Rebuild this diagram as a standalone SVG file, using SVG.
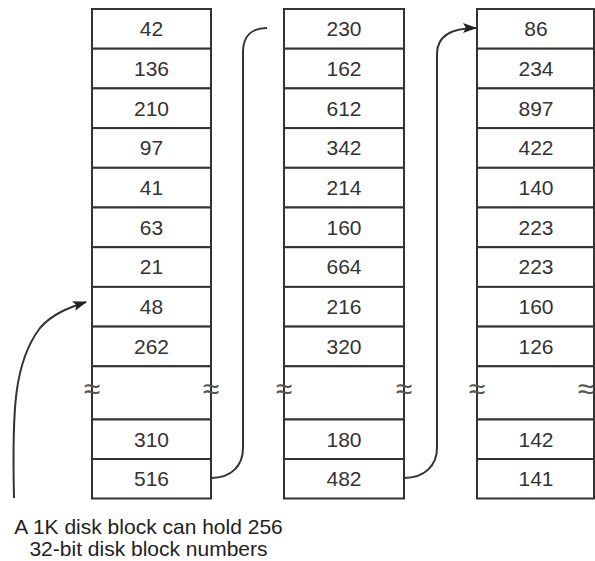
<svg xmlns="http://www.w3.org/2000/svg" width="595" height="561" viewBox="0 0 595 561">
<style>
.cell{fill:#fff;stroke:#333;stroke-width:2}
.num{font-family:"Liberation Sans",Arial,sans-serif;font-size:21px;fill:#333;text-anchor:middle}
.apx{font-family:"Liberation Sans",Arial,sans-serif;font-size:30px;fill:#555;text-anchor:middle}
.cap{font-family:"Liberation Sans",Arial,sans-serif;font-size:21px;fill:#222;text-anchor:middle}
.conn{fill:none;stroke:#333;stroke-width:2}
</style>
<defs>
<marker id="ah" markerUnits="userSpaceOnUse" markerWidth="14" markerHeight="10" refX="13" refY="5" orient="auto">
<path d="M0,0 L14,5 L0,10 L3,5 Z" fill="#222"/>
</marker>
</defs>
<rect width="595" height="561" fill="#fff"/>
<g id="block1">
<rect class="cell" x="92" y="9" width="119" height="39.7"/>
<rect class="cell" x="92" y="48.7" width="119" height="39.7"/>
<rect class="cell" x="92" y="88.4" width="119" height="39.7"/>
<rect class="cell" x="92" y="128.1" width="119" height="39.7"/>
<rect class="cell" x="92" y="167.8" width="119" height="39.7"/>
<rect class="cell" x="92" y="207.5" width="119" height="39.7"/>
<rect class="cell" x="92" y="247.2" width="119" height="39.7"/>
<rect class="cell" x="92" y="286.9" width="119" height="39.7"/>
<rect class="cell" x="92" y="326.6" width="119" height="39.7"/>
<rect class="cell" x="92" y="366.3" width="119" height="53.2"/>
<rect class="cell" x="92" y="419.5" width="119" height="39.5"/>
<rect class="cell" x="92" y="459" width="119" height="39.5"/>
<text class="num" x="151.5" y="36.2">42</text>
<text class="num" x="151.5" y="75.9">136</text>
<text class="num" x="151.5" y="115.6">210</text>
<text class="num" x="151.5" y="155.3">97</text>
<text class="num" x="151.5" y="195">41</text>
<text class="num" x="151.5" y="234.7">63</text>
<text class="num" x="151.5" y="274.4">21</text>
<text class="num" x="151.5" y="314.1">48</text>
<text class="num" x="151.5" y="353.8">262</text>
<text class="num" x="151.5" y="446.6">310</text>
<text class="num" x="151.5" y="486.1">516</text>
<text class="apx" x="92" y="399">≈</text>
<text class="apx" x="211" y="399">≈</text>
</g>
<g id="block2">
<rect class="cell" x="284" y="9" width="120" height="39.7"/>
<rect class="cell" x="284" y="48.7" width="120" height="39.7"/>
<rect class="cell" x="284" y="88.4" width="120" height="39.7"/>
<rect class="cell" x="284" y="128.1" width="120" height="39.7"/>
<rect class="cell" x="284" y="167.8" width="120" height="39.7"/>
<rect class="cell" x="284" y="207.5" width="120" height="39.7"/>
<rect class="cell" x="284" y="247.2" width="120" height="39.7"/>
<rect class="cell" x="284" y="286.9" width="120" height="39.7"/>
<rect class="cell" x="284" y="326.6" width="120" height="39.7"/>
<rect class="cell" x="284" y="366.3" width="120" height="53.2"/>
<rect class="cell" x="284" y="419.5" width="120" height="39.5"/>
<rect class="cell" x="284" y="459" width="120" height="39.5"/>
<text class="num" x="344" y="36.2">230</text>
<text class="num" x="344" y="75.9">162</text>
<text class="num" x="344" y="115.6">612</text>
<text class="num" x="344" y="155.3">342</text>
<text class="num" x="344" y="195">214</text>
<text class="num" x="344" y="234.7">160</text>
<text class="num" x="344" y="274.4">664</text>
<text class="num" x="344" y="314.1">216</text>
<text class="num" x="344" y="353.8">320</text>
<text class="num" x="344" y="446.6">180</text>
<text class="num" x="344" y="486.1">482</text>
<text class="apx" x="284" y="399">≈</text>
<text class="apx" x="404" y="399">≈</text>
</g>
<g id="block3">
<rect class="cell" x="477" y="9" width="117" height="39.7"/>
<rect class="cell" x="477" y="48.7" width="117" height="39.7"/>
<rect class="cell" x="477" y="88.4" width="117" height="39.7"/>
<rect class="cell" x="477" y="128.1" width="117" height="39.7"/>
<rect class="cell" x="477" y="167.8" width="117" height="39.7"/>
<rect class="cell" x="477" y="207.5" width="117" height="39.7"/>
<rect class="cell" x="477" y="247.2" width="117" height="39.7"/>
<rect class="cell" x="477" y="286.9" width="117" height="39.7"/>
<rect class="cell" x="477" y="326.6" width="117" height="39.7"/>
<rect class="cell" x="477" y="366.3" width="117" height="53.2"/>
<rect class="cell" x="477" y="419.5" width="117" height="39.5"/>
<rect class="cell" x="477" y="459" width="117" height="39.5"/>
<text class="num" x="536" y="36.2">86</text>
<text class="num" x="536" y="75.9">234</text>
<text class="num" x="536" y="115.6">897</text>
<text class="num" x="536" y="155.3">422</text>
<text class="num" x="536" y="195">140</text>
<text class="num" x="536" y="234.7">223</text>
<text class="num" x="536" y="274.4">223</text>
<text class="num" x="536" y="314.1">160</text>
<text class="num" x="536" y="353.8">126</text>
<text class="num" x="536" y="446.6">142</text>
<text class="num" x="536" y="486.1">141</text>
<text class="apx" x="477" y="399">≈</text>
<text class="apx" x="586" y="399">≈</text>
</g>
<g id="connectors">
<path class="conn" d="M211,478 C232,478 243,465 243,448 L243,52 C243,36 252,28 267,28"/>
<path class="conn" d="M404,478 C425,478 437,465 437,448 L437,54 C437,37 450,28 476,28" marker-end="url(#ah)"/>
<path class="conn" d="M14,498 C12,410 14,362 40,328 C52,314 68,308 86,302" marker-end="url(#ah)"/>
</g>
<g id="caption">
<text class="cap" x="148.5" y="534">A 1K disk block can hold 256</text>
<text class="cap" x="148.5" y="556">32-bit disk block numbers</text>
</g>
</svg>
